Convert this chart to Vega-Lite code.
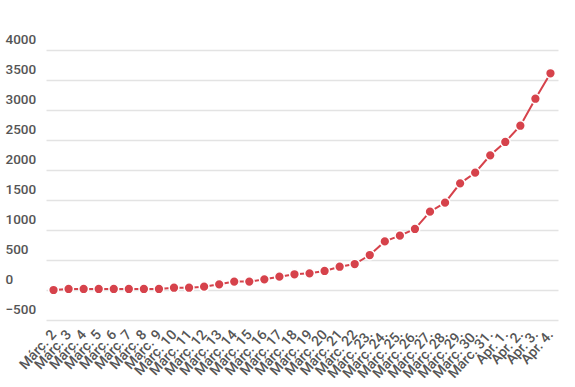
{
  "$schema": "https://vega.github.io/schema/vega-lite/v6.json",
  "autosize": "none",
  "width": 561,
  "height": 270,
  "padding": {"left": 5, "top": 50, "right": 9, "bottom": 67},
  "background": "white",
  "config": {
    "view": {"stroke": null},
    "font": "Roboto"
  },
  "data": {
    "values": [
      {"d": "Márc. 2", "v": 0},
      {"d": "Márc. 3", "v": 17},
      {"d": "Márc. 4", "v": 17},
      {"d": "Márc. 5", "v": 17},
      {"d": "Márc. 6", "v": 17},
      {"d": "Márc. 7", "v": 17},
      {"d": "Márc. 8", "v": 17},
      {"d": "Márc. 9", "v": 17},
      {"d": "Márc. 10", "v": 38},
      {"d": "Márc. 11", "v": 38},
      {"d": "Márc. 12", "v": 55},
      {"d": "Márc. 13", "v": 95},
      {"d": "Márc. 14", "v": 140},
      {"d": "Márc. 15", "v": 140},
      {"d": "Márc. 16", "v": 178},
      {"d": "Márc. 17", "v": 222},
      {"d": "Márc. 18", "v": 262},
      {"d": "Márc. 19", "v": 278},
      {"d": "Márc. 20", "v": 317},
      {"d": "Márc. 21", "v": 388},
      {"d": "Márc. 22", "v": 433},
      {"d": "Márc. 23.", "v": 583},
      {"d": "Márc. 24.", "v": 810},
      {"d": "Márc. 25.", "v": 905},
      {"d": "Márc. 26.", "v": 1017},
      {"d": "Márc. 27.", "v": 1305},
      {"d": "Márc. 28.", "v": 1455},
      {"d": "Márc. 29.", "v": 1778},
      {"d": "Márc. 30.", "v": 1955},
      {"d": "Márc. 31.", "v": 2245},
      {"d": "Apr. 1.", "v": 2467},
      {"d": "Apr. 2.", "v": 2738},
      {"d": "Apr. 3.", "v": 3188},
      {"d": "Apr. 4.", "v": 3612}
    ]
  },
  "encoding": {
    "x": {
      "field": "d",
      "type": "ordinal",
      "sort": null,
      "scale": {"type": "point", "range": [41, 553]},
      "axis": {
        "title": null,
        "domain": false,
        "ticks": false,
        "tickSize": 0,
        "grid": false,
        "labelAngle": -48,
        "labelAlign": "right",
        "labelBaseline": "middle",
        "labelPadding": 12,
        "labelFontSize": 14,
        "labelFontWeight": 500,
        "labelColor": "#555555"
      }
    },
    "y": {
      "field": "v",
      "type": "quantitative",
      "scale": {"domain": [-500, 4000], "nice": false, "zero": false},
      "axis": {
        "title": null,
        "values": [-500, 0, 500, 1000, 1500, 2000, 2500, 3000, 3500, 4000],
        "format": "d",
        "domain": false,
        "ticks": false,
        "tickSize": 0,
        "grid": true,
        "gridColor": "#e3e3e3",
        "gridWidth": 1.5,
        "labelAlign": "left",
        "labelBaseline": "bottom",
        "labelPadding": 0,
        "labelOffset": -4,
        "labelFontSize": 13.5,
        "labelFontWeight": 500,
        "labelColor": "#555555"
      }
    }
  },
  "layer": [
    {"mark": {"type": "line", "color": "#d6424b", "strokeWidth": 2}},
    {"mark": {"type": "point", "filled": true, "size": 95, "color": "#d6424b", "stroke": "white", "strokeWidth": 1.5, "opacity": 1}}
  ]
}
